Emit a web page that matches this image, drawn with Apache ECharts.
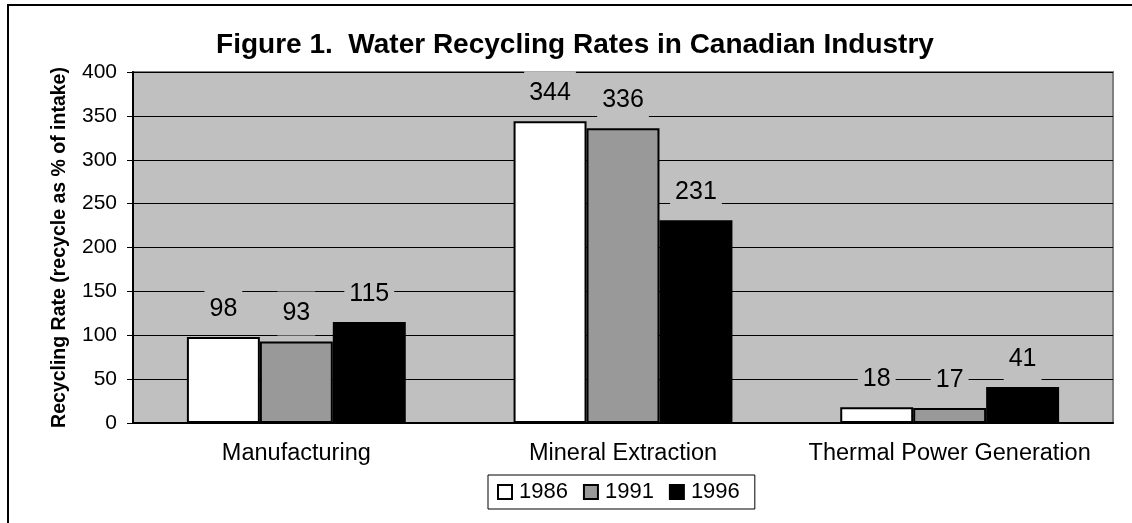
<!DOCTYPE html>
<html>
<head>
<meta charset="utf-8">
<script src="https://cdn.jsdelivr.net/npm/echarts@6/dist/echarts.min.js"></script>
<style>
html,body{margin:0;padding:0;background:#fff;}
#chart{width:1132px;height:523px;}
</style>
</head>
<body>
<div id="chart"></div>
<script>
var categories = ['Manufacturing', 'Mineral Extraction', 'Thermal Power Generation'];
var years = ['1986', '1991', '1996'];
var values1986 = [98, 344, 18];
var values1991 = [93, 336, 17];
var values1996 = [115, 231, 41];
var yTicks = [0, 50, 100, 150, 200, 250, 300, 350, 400];

var chart = echarts.init(document.getElementById('chart'));
var font = 'Arial, "Liberation Sans", sans-serif';
var colors = ['#ffffff', '#999999', '#000000'];
var seriesData = [values1986, values1991, values1996];

var labelStyle = {
  show: true,
  position: 'top',
  distance: 6,
  fontFamily: font,
  fontSize: 25,
  color: '#000',
  backgroundColor: '#c0c0c0',
  padding: [8, 5, 8, 5],
  lineHeight: 28
};

var series = years.map(function (y, i) {
  return {
    name: y,
    type: 'bar',
    data: seriesData[i],
    barGap: '0%',
    barCategoryGap: '33%',
    itemStyle: {
      color: colors[i],
      borderColor: '#000',
      borderWidth: 2
    },
    label: labelStyle,
    emphasis: { disabled: true },
    animation: false
  };
});

chart.setOption({
  animation: false,
  backgroundColor: '#fff',
  title: {
    text: 'Figure 1.  Water Recycling Rates in Canadian Industry',
    left: 570,
    textAlign: 'center',
    top: 26,
    textStyle: { fontFamily: font, fontSize: 28, fontWeight: 'bold', color: '#000' }
  },
  graphic: [{
    type: 'rect',
    shape: { x: 8, y: 5, width: 1200, height: 600 },
    style: { fill: 'none', stroke: '#000', lineWidth: 2 },
    silent: true
  }],
  legend: {
    data: years,
    left: 488,
    top: 475,
    orient: 'horizontal',
    icon: 'rect',
    itemWidth: 14,
    itemHeight: 14,
    itemGap: 15,
    padding: [5, 15, 5, 9],
    borderColor: '#000',
    borderWidth: 1,
    backgroundColor: '#fff',
    textStyle: { fontFamily: font, fontSize: 22, color: '#000', lineHeight: 24, padding: [0, 0, 0, 2] },
    itemStyle: { borderColor: '#000', borderWidth: 2 },
    selectedMode: false
  },
  grid: {
    left: 133,
    top: 72,
    right: 19,
    bottom: 100,
    show: true,
    backgroundColor: '#c0c0c0',
    borderColor: '#808080',
    borderWidth: 2
  },
  xAxis: {
    type: 'category',
    data: categories,
    axisLine: { show: true, lineStyle: { color: '#000', width: 2 } },
    axisTick: { show: false },
    axisLabel: {
      fontFamily: font,
      fontSize: 23.5,
      color: '#000',
      margin: 19,
      interval: 0
    }
  },
  yAxis: {
    type: 'value',
    min: 0,
    max: 400,
    interval: 50,
    name: 'Recycling Rate (recycle as % of intake)',
    nameLocation: 'middle',
    nameGap: 63,
    nameTextStyle: { fontFamily: font, fontSize: 19.5, fontWeight: 'bold', color: '#000' },
    axisLine: { show: true, lineStyle: { color: '#000', width: 2 } },
    axisTick: { show: true, length: 6, lineStyle: { color: '#000' } },
    axisLabel: {
      fontFamily: font, fontSize: 21, color: '#000', margin: 16,
      formatter: function (v) { return yTicks.indexOf(v) >= 0 ? String(v) : ''; }
    },
    splitLine: { show: true, lineStyle: { color: '#000', width: 1 } }
  },
  series: series
});
</script>
</body>
</html>
